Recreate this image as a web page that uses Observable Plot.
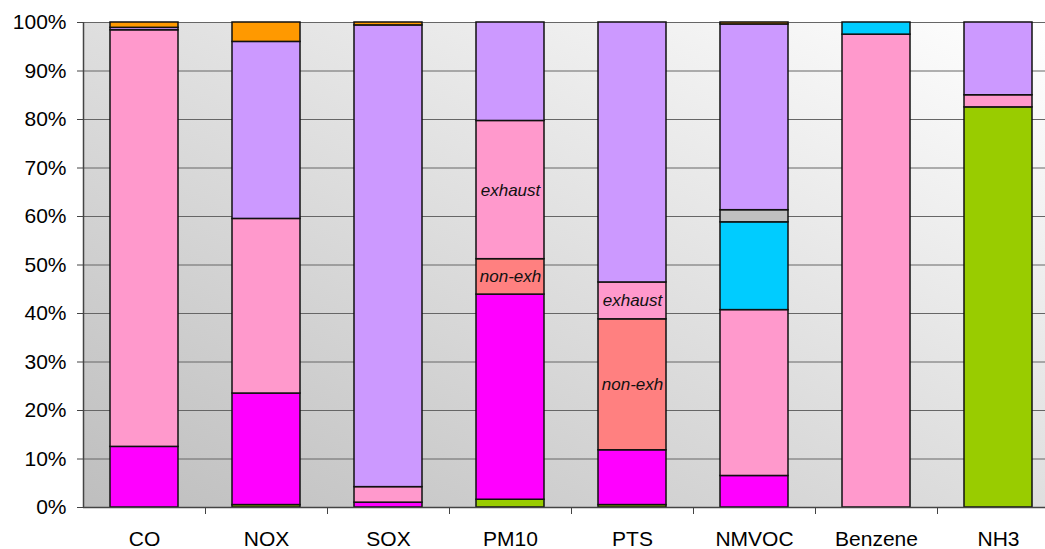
<!DOCTYPE html>
<html>
<head>
<meta charset="utf-8">
<script src="https://cdn.jsdelivr.net/npm/d3@7"></script>
<script src="https://cdn.jsdelivr.net/npm/@observablehq/plot@0.6"></script>
<style>
  html, body { margin: 0; padding: 0; background: #fff; }
  #chart svg { display: block; }
</style>
</head>
<body>
<div id="chart"></div>
<script>
// Categories (pollutants)
const categories = ["CO", "NOX", "SOX", "PM10", "PTS", "NMVOC", "Benzene", "NH3"];

// Series (sources), bottom to top, with colours
const seriesNames = ["Agriculture", "Combustion", "Road non-exhaust", "Road exhaust", "Solvents", "Other", "Industry", "Other mobile"];
const seriesColors = ["#99CC00", "#FF00FF", "#FF8080", "#FF99CC", "#00CCFF", "#C0C0C0", "#CC99FF", "#FF9900"];

// Shares (%) per series, in category order
const agriculture    = [0,    0.5,  0,    1.6,  0.5,  0,    0,    82.5];
const combustion     = [12.5, 23,   1,    42.3, 11.3, 6.5,  0,    0];
const roadNonExhaust = [0,    0,    0,    7.3,  27,   0,    0,    0];
const roadExhaust    = [85.9, 36,   3.2,  28.5, 7.6,  34.2, 97.5, 2.5];
const solvents       = [0,    0,    0,    0,    0,    18.1, 2.5,  0];
const other          = [0,    0,    0,    0,    0,    2.5,  0,    0];
const industry       = [0.5,  36.5, 95.2, 20.3, 53.6, 38.3, 0,    15];
const otherMobile    = [1.1,  4,    0.6,  0,    0,    0.4,  0,    0];

const seriesValues = [agriculture, combustion, roadNonExhaust, roadExhaust, solvents, other, industry, otherMobile];

// In-bar annotations
const annotations = [
  {cat: "PM10", series: "Road exhaust", text: "exhaust"},
  {cat: "PM10", series: "Road non-exhaust", text: "non-exh"},
  {cat: "PTS", series: "Road exhaust", text: "exhaust"},
  {cat: "PTS", series: "Road non-exhaust", text: "non-exh"}
];

const yTicks = [0, 10, 20, 30, 40, 50, 60, 70, 80, 90, 100];

const rows = [];
seriesNames.forEach((s, si) => {
  categories.forEach((c, ci) => {
    const v = seriesValues[si][ci];
    if (v > 0) {
      const a = annotations.find(d => d.cat === c && d.series === s);
      rows.push({cat: c, series: s, value: v, label: a ? a.text : undefined});
    }
  });
});

const FONT = "'Liberation Sans', Arial, sans-serif";
const HALF_STEP = 61;

const svg = Plot.plot({
  width: 1045,
  height: 549,
  marginLeft: 83,
  marginRight: 0,
  marginTop: 22,
  marginBottom: 42,
  style: {fontFamily: FONT, fontSize: "21px", color: "#000", background: "#fff", overflow: "hidden"},
  x: {domain: categories, range: [83, 1059], paddingInner: 0.443, paddingOuter: 0.2215, label: null},
  y: {domain: [0, 100], label: null},
  color: {domain: seriesNames, range: seriesColors},
  marks: [
    Plot.frame({fill: "url(#bggrad)", stroke: "none"}),
    Plot.gridY(yTicks, {stroke: "#666", strokeOpacity: 1, strokeWidth: 1}),
    Plot.barY(rows, {x: "cat", y: "value", z: "series", fill: "series", stroke: "#111", strokeWidth: 1.5, order: null}),
    Plot.text(rows, Plot.stackY({x: "cat", y: "value", z: "series", text: "label", order: null,
      fontStyle: "italic", fontSize: 17, fill: "#111", fontFamily: FONT})),
    Plot.ruleY([0], {stroke: "#444", strokeWidth: 1.5}),
    Plot.ruleX([categories[0]], {y1: 0, y2: 100, dx: -HALF_STEP, stroke: "#444", strokeWidth: 1.5}),
    Plot.axisY({ticks: yTicks, tickFormat: d => d + "%", tickSize: 6, tickPadding: 11, fontSize: 21, label: null, stroke: "#444"}),
    Plot.axisX({tickSize: 0, tickPadding: 24, fontSize: 21, label: null}),
    Plot.axisX({ticks: categories.slice(1), tickSize: 7, tickFormat: () => "", dx: -HALF_STEP, label: null, stroke: "#444"})
  ]
});

// Background gradient for the plot area
const defs = d3.select(svg).insert("defs", ":first-child");
const grad = defs.append("linearGradient")
  .attr("id", "bggrad")
  .attr("x1", 0).attr("y1", 1).attr("x2", 1).attr("y2", 0);
grad.append("stop").attr("offset", "0%").attr("stop-color", "#bebebe");
grad.append("stop").attr("offset", "100%").attr("stop-color", "#ffffff");

document.getElementById("chart").appendChild(svg);
</script>
</body>
</html>
